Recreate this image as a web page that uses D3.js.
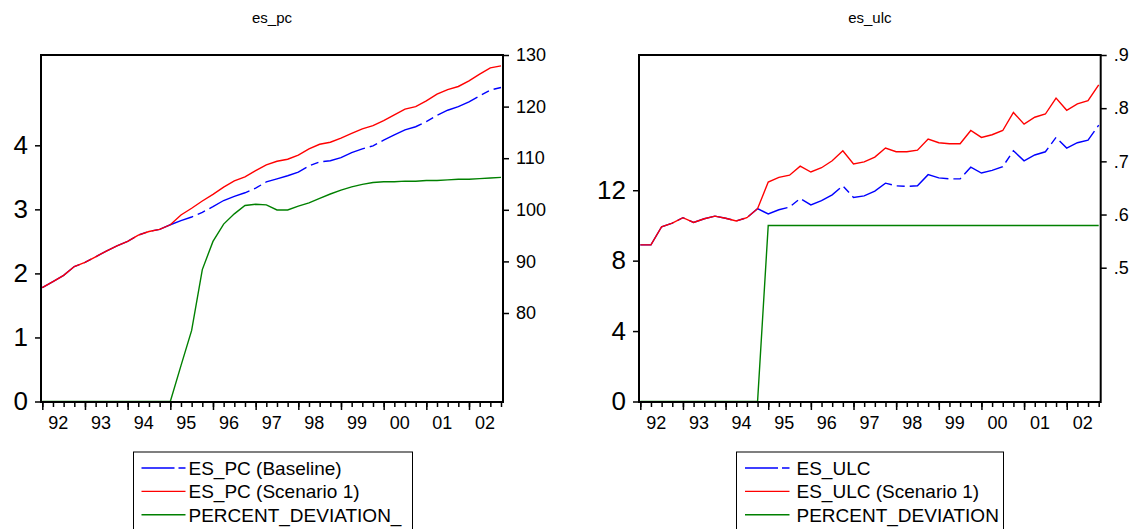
<!DOCTYPE html>
<html>
<head>
<meta charset="utf-8">
<script src="https://cdn.jsdelivr.net/npm/d3@7"></script>
<style>
  body { margin: 0; background: #fff; }
  svg { display: block; }
  text { font-family: "Liberation Sans", Arial, sans-serif; fill: #000; }
</style>
</head>
<body>
<svg id="chart" width="1134" height="529"></svg>
<script>
// Quarterly observations, 1992Q1 - 2002Q4
const quarters = [
  "1992Q1","1992Q2","1992Q3","1992Q4","1993Q1","1993Q2","1993Q3","1993Q4",
  "1994Q1","1994Q2","1994Q3","1994Q4","1995Q1","1995Q2","1995Q3","1995Q4",
  "1996Q1","1996Q2","1996Q3","1996Q4","1997Q1","1997Q2","1997Q3","1997Q4",
  "1998Q1","1998Q2","1998Q3","1998Q4","1999Q1","1999Q2","1999Q3","1999Q4",
  "2000Q1","2000Q2","2000Q3","2000Q4","2001Q1","2001Q2","2001Q3","2001Q4",
  "2002Q1","2002Q2","2002Q3","2002Q4"
];
const yearLabels = ["92","93","94","95","96","97","98","99","00","01","02"];

// es_pc
const pcBaseline = [
  84.9, 86.1, 87.3, 89.0, 89.8, 90.9, 92.0, 93.0, 93.9, 95.1, 95.8, 96.2,
  97.1, 97.9, 98.6, 99.5, 100.6, 101.8, 102.6, 103.3, 104.2, 105.4, 106.0, 106.6,
  107.3, 108.5, 109.3, 109.5, 110.1, 111.1, 111.8, 112.4, 113.5, 114.5, 115.5, 116.1,
  117.1, 118.3, 119.3, 120.0, 120.9, 122.1, 123.2, 123.7
];
const pcScenario = [
  84.9, 86.1, 87.3, 89.0, 89.8, 90.9, 92.0, 93.0, 93.9, 95.1, 95.8, 96.2,
  97.1, 99.0, 100.3, 101.7, 103.0, 104.4, 105.6, 106.4, 107.6, 108.7, 109.4, 109.8,
  110.6, 111.8, 112.7, 113.1, 113.9, 114.8, 115.7, 116.3, 117.3, 118.4, 119.5, 120.0,
  121.1, 122.4, 123.3, 123.9, 125.0, 126.3, 127.5, 127.9
];
const pcDeviation = [
  0, 0, 0, 0, 0, 0, 0, 0, 0, 0, 0, 0,
  0, 0.56, 1.11, 2.06, 2.50, 2.77, 2.93, 3.06, 3.08, 3.07, 2.99, 2.99,
  3.05, 3.10, 3.17, 3.24, 3.30, 3.35, 3.39, 3.42, 3.43, 3.43, 3.44, 3.44,
  3.45, 3.45, 3.46, 3.47, 3.47, 3.48, 3.49, 3.50
];

// es_ulc
const ulcBaseline = [
  0.543, 0.543, 0.577, 0.584, 0.594, 0.585, 0.592, 0.597, 0.593, 0.588, 0.594, 0.611,
  0.601, 0.609, 0.614, 0.630, 0.618, 0.626, 0.637, 0.654, 0.632, 0.635, 0.644, 0.659,
  0.654, 0.653, 0.654, 0.675, 0.669, 0.667, 0.667, 0.689, 0.678, 0.683, 0.690, 0.720,
  0.701, 0.712, 0.718, 0.745, 0.725, 0.735, 0.740, 0.768
];
const ulcScenario = [
  0.543, 0.543, 0.577, 0.584, 0.594, 0.585, 0.592, 0.597, 0.593, 0.588, 0.594, 0.611,
  0.661, 0.670, 0.674, 0.691, 0.680, 0.688, 0.701, 0.720, 0.695, 0.699, 0.708, 0.725,
  0.718, 0.718, 0.721, 0.742, 0.735, 0.733, 0.733, 0.758, 0.745, 0.750, 0.758, 0.792,
  0.770, 0.783, 0.789, 0.819, 0.796, 0.808, 0.814, 0.844
];
const ulcDeviation = [
  0, 0, 0, 0, 0, 0, 0, 0, 0, 0, 0, 0,
  10, 10, 10, 10, 10, 10, 10, 10, 10, 10, 10, 10,
  10, 10, 10, 10, 10, 10, 10, 10, 10, 10, 10, 10,
  10, 10, 10, 10, 10, 10, 10, 10
];

const pcLeftTicks = [0, 1, 2, 3, 4];
const pcRightTicks = [80, 90, 100, 110, 120, 130];
const ulcLeftTicks = [0, 4, 8, 12];
const ulcRightTicks = [0.5, 0.6, 0.7, 0.8, 0.9];

const pcLegend = ["ES_PC (Baseline)", "ES_PC (Scenario 1)", "PERCENT_DEVIATION_"];
const ulcLegend = ["ES_ULC", "ES_ULC (Scenario 1)", "PERCENT_DEVIATION"];

const BLUE = "#0000ff", RED = "#ff0000", GREEN = "#008000";
const DASH = "44,5,8,5";

const svg = d3.select("#chart");

function drawPanel(cfg) {
  const { left, right, top, bottom } = cfg;
  const w = right - left, h = bottom - top;
  const g = svg.append("g").attr("transform", `translate(${left},${top})`);

  const x = d3.scaleLinear().domain([0, quarters.length - 1]).range([1.3, w - 2]);
  const yL = d3.scaleLinear().domain(cfg.leftDomain).range([h - 0.5, 0]);
  const yR = d3.scaleLinear().domain(cfg.rightDomain).range([h - 0.5, 0]);

  // title
  svg.append("text")
    .attr("x", left + w / 2).attr("y", 23)
    .attr("text-anchor", "middle")
    .style("font-size", "15px")
    .text(cfg.title);

  // series
  const lineR = d3.line().x((d, i) => x(i)).y(d => yR(d));
  const lineL = d3.line().x((d, i) => x(i)).y(d => yL(d));
  g.append("path").datum(cfg.base).attr("d", lineR)
    .attr("fill", "none").attr("stroke", BLUE).attr("stroke-width", 1.4)
    .attr("stroke-dasharray", DASH);
  g.append("path").datum(cfg.scen).attr("d", lineR)
    .attr("fill", "none").attr("stroke", RED).attr("stroke-width", 1.4);
  g.append("path").datum(cfg.dev).attr("d", lineL)
    .attr("fill", "none").attr("stroke", GREEN).attr("stroke-width", 1.4);

  // frame
  g.append("rect").attr("x", 0).attr("y", 0).attr("width", w).attr("height", h)
    .attr("fill", "none").attr("stroke", "#000").attr("stroke-width", 2);

  // left axis
  const aL = g.append("g").call(
    d3.axisLeft(yL).tickValues(cfg.leftTicks).tickSize(6).tickPadding(7)
      .tickFormat(d3.format("d")));
  aL.select(".domain").remove();
  aL.selectAll("line").attr("stroke-width", 1.5);
  aL.selectAll("text").style("font-size", "26px").attr("font-family", null);

  // right axis
  const aR = g.append("g").attr("transform", `translate(${w},0)`).call(
    d3.axisRight(yR).tickValues(cfg.rightTicks).tickSize(6).tickPadding(7)
      .tickFormat(cfg.rightFormat));
  aR.select(".domain").remove();
  aR.selectAll("line").attr("stroke-width", 1.5);
  aR.selectAll("text").style("font-size", "18px").attr("font-family", null);

  // bottom axis: quarterly minor ticks, yearly major ticks
  const idx = quarters.map((q, i) => i);
  const aMinor = g.append("g").attr("transform", `translate(0,${h})`).call(
    d3.axisBottom(x).tickValues(idx).tickSize(5).tickFormat(""));
  aMinor.select(".domain").remove();
  aMinor.selectAll("line").attr("stroke-width", 1.5);
  const yearIdx = idx.filter(i => quarters[i].endsWith("Q1"));
  const aMajor = g.append("g").attr("transform", `translate(0,${h})`).call(
    d3.axisBottom(x).tickValues(yearIdx).tickSize(8).tickFormat(""));
  aMajor.select(".domain").remove();
  aMajor.selectAll("line").attr("stroke-width", 1.5);

  // year labels, placed between Q2 and Q3 of each year
  g.append("g").selectAll("text").data(yearLabels).join("text")
    .attr("x", (d, k) => x(yearIdx[k] + 1.5))
    .attr("y", h + 26.5)
    .attr("text-anchor", "middle")
    .style("font-size", "18px")
    .text(d => d);

  // legend
  const lg = svg.append("g").attr("transform", `translate(${cfg.legend.x},${cfg.legend.y})`);
  lg.append("rect").attr("x", 0).attr("y", 0)
    .attr("width", cfg.legend.w).attr("height", 100)
    .attr("fill", "#fff").attr("stroke", "#000").attr("stroke-width", 1);
  const colors = [BLUE, RED, GREEN];
  cfg.legendLabels.forEach((lab, k) => {
    const cy = 16 + k * 23.4;
    lg.append("line")
      .attr("x1", cfg.legend.lx0).attr("x2", cfg.legend.lx1)
      .attr("y1", cy).attr("y2", cy)
      .attr("stroke", colors[k]).attr("stroke-width", 1.4)
      .attr("stroke-dasharray", k === 0 ? "33,4,8,0" : null);
    lg.append("text")
      .attr("x", cfg.legend.tx).attr("y", cy + 7)
      .style("font-size", "19px")
      .text(lab);
  });
}

drawPanel({
  title: "es_pc", left: 41, right: 503, top: 55, bottom: 402,
  leftDomain: [0, 5.41], rightDomain: [62.85, 130],
  leftTicks: pcLeftTicks, rightTicks: pcRightTicks,
  rightFormat: d3.format("d"),
  base: pcBaseline, scen: pcScenario, dev: pcDeviation,
  legendLabels: pcLegend,
  legend: { x: 133.5, y: 452, w: 279, lx0: 8, lx1: 52, tx: 55 }
});

drawPanel({
  title: "es_ulc", left: 639, right: 1100.7, top: 55, bottom: 402,
  leftDomain: [0, 19.68], rightDomain: [0.2484, 0.9],
  leftTicks: ulcLeftTicks, rightTicks: ulcRightTicks,
  rightFormat: d => d3.format(".1f")(d).replace(/^0/, ""),
  base: ulcBaseline, scen: ulcScenario, dev: ulcDeviation,
  legendLabels: ulcLegend,
  legend: { x: 736.5, y: 452, w: 267, lx0: 8.5, lx1: 53, tx: 60 }
});
</script>
</body>
</html>
